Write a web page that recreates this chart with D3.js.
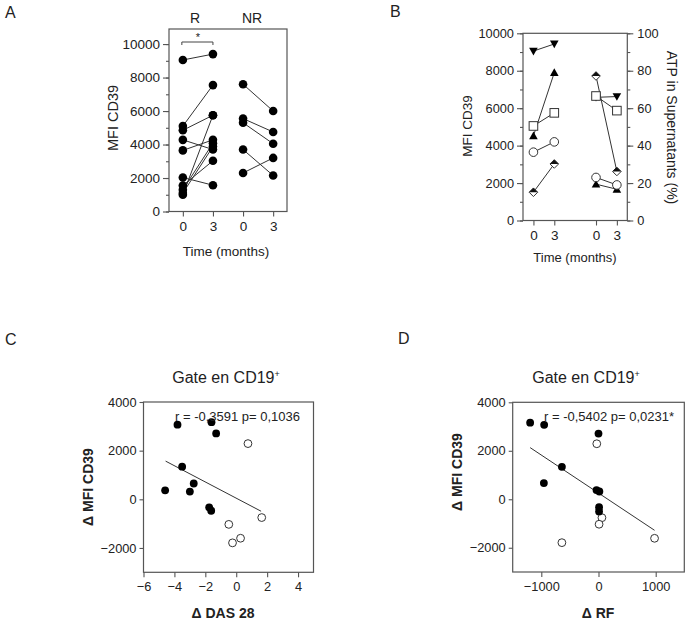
<!DOCTYPE html>
<html>
<head>
<meta charset="utf-8">
<script src="https://cdn.jsdelivr.net/npm/d3@7"></script>
<style>
  body { margin: 0; background: #fff; }
  svg { font-family: "Liberation Sans", Arial, sans-serif; }
  text { fill: #222; }
</style>
</head>
<body>
<script>

// ---- data ----

// panel A: MFI CD39 at 0 and 3 months, responders (R) and non responders (NR)
const aTimes = ['R0', 'R3', 'NR0', 'NR3'];
const aTickLabels = ['0', '3', '0', '3'];
const aYTicks = [0, 2000, 4000, 6000, 8000, 10000];
const rMonth0 = [9050, 5100, 4850, 4280, 3650, 2030, 1550, 1300, 1100, 1000];
const rMonth3 = [9400, 7550, 5750, 3700, 4280, 1570, 3030, 4080, 3880, 5750];
const nrMonth0 = [7600, 5550, 5300, 3700, 2300];
const nrMonth3 = [6000, 4750, 4050, 2150, 3200];

// panel B: MFI CD39 per patient, two groups of five
const bShapes = ['triDown', 'triUp', 'square', 'circle', 'diamond'];
const bLeft0 = [9050, 4520, 5050, 3650, 1510];
const bLeft3 = [9430, 7900, 5750, 4200, 3020];
const bRight0 = [6580, 1940, 6650, 2300, 7720];
const bRight3 = [6620, 1670, 5870, 1900, 2620];
const bYTicks = [0, 2000, 4000, 6000, 8000, 10000];
const bRTicks = [0, 20, 40, 60, 80, 100];

// panel C: delta DAS 28 vs delta MFI CD39
const cFilledX = [-3.8, -1.6, -1.3, -3.5, -4.6, -2.75, -3.0, -1.75, -1.62];
const cFilledY = [3070, 3170, 2710, 1340, 370, 650, 320, -330, -470];
const cOpenX = [0.76, -0.48, -0.24, 0.28, 1.65];
const cOpenY = [2290, -1030, -1790, -1600, -750];
const cFitX = [-4.57, 1.61];
const cFitY = [1570, -490];
const cXTicks = [-6, -4, -2, 0, 2, 4];

// panel D: delta RF vs delta MFI CD39
const dFilledX = [-1195, -950, 0, -640, -955, -35, 15, 10, 10];
const dFilledY = [3160, 3070, 2710, 1340, 670, 380, 320, -330, -500];
const dOpenX = [-30, 60, 10, -640, 980];
const dOpenY = [2290, -760, -1030, -1790, -1610];
const dFitX = [-1195, 980];
const dFitY = [2130, -1280];
const dXTicks = [-1000, 0, 1000];

const cdYTicks = [-2000, 0, 2000, 4000];

// ---- page ----

const svg = d3.select('body').append('svg').attr('width', 688).attr('height', 622);

const ink = '#222';
const frame = '#555';

function box(x0, x1, y0, y1) {
    svg.append('rect').attr('x', x0).attr('y', y1).attr('width', x1 - x0).attr('height', y0 - y1)
        .attr('fill', 'none').attr('stroke', frame).attr('stroke-width', 1.2);
}

function styleAxis(g, size) {
    g.select('.domain').remove();
    g.selectAll('line').attr('stroke', frame).attr('stroke-width', 1.1);
    g.selectAll('text').attr('font-size', size).attr('fill', ink)
        .attr('font-family', '"Liberation Sans", Arial, sans-serif');
}

function label(x, y, txt, size, opts = {}) {
    const t = svg.append('text').attr('x', x).attr('y', y).attr('font-size', size)
        .attr('text-anchor', opts.anchor || 'middle').text(txt);
    if (opts.bold) t.attr('font-weight', 'bold');
    if (opts.rotate) t.attr('transform', `rotate(${opts.rotate},${x},${y})`);
    return t;
}

// panel letters
label(5, 18, 'A', 16, { anchor: 'start' });
label(390, 17, 'B', 16, { anchor: 'start' });
label(5, 345, 'C', 16, { anchor: 'start' });
label(398, 344, 'D', 16, { anchor: 'start' });

// ---- A ----

const ax = d3.scalePoint().domain(aTimes).range([169, 287]).padding(0.46);
const ay = d3.scaleLinear().domain([0, 10900]).range([211.5, 29]);

svg.append('g').attr('transform', 'translate(169,0)')
    .call(d3.axisLeft(ay).tickValues(d3.range(0, 10001, 1000)).tickSize(3).tickFormat(''))
    .call(g => styleAxis(g, 13));
svg.append('g').attr('transform', 'translate(169,0)')
    .call(d3.axisLeft(ay).tickValues(aYTicks).tickSize(6).tickPadding(3).tickFormat(d3.format('d')))
    .call(g => styleAxis(g, 13.5));
svg.append('g').attr('transform', 'translate(0,211.5)')
    .call(d3.axisBottom(ax).tickSize(5).tickPadding(5).tickFormat((d, i) => aTickLabels[i]))
    .call(g => styleAxis(g, 13.5));
box(169, 287, 211.5, 29);

const aPairs = rMonth0.map((v, i) => ({ a: 'R0', b: 'R3', v0: v, v3: rMonth3[i] }))
    .concat(nrMonth0.map((v, i) => ({ a: 'NR0', b: 'NR3', v0: v, v3: nrMonth3[i] })));

svg.append('g').selectAll('line').data(aPairs).enter().append('line')
    .attr('x1', d => ax(d.a)).attr('x2', d => ax(d.b))
    .attr('y1', d => ay(d.v0)).attr('y2', d => ay(d.v3))
    .attr('stroke', '#333').attr('stroke-width', 1);

const aPoints = aPairs.flatMap(d => [{ t: d.a, v: d.v0 }, { t: d.b, v: d.v3 }]);
svg.append('g').selectAll('circle').data(aPoints).enter().append('circle')
    .attr('cx', d => ax(d.t)).attr('cy', d => ay(d.v)).attr('r', 4.3).attr('fill', '#000');

label(195, 23, 'R', 14);
label(252, 23, 'NR', 14);

// significance bracket
const brY = 42;
svg.append('path')
    .attr('d', `M${ax('R0') - 1},${brY + 3}V${brY}H${ax('R3')}V${brY + 3}`)
    .attr('fill', 'none').attr('stroke', '#444').attr('stroke-width', 1);
label((ax('R0') + ax('R3')) / 2, 40.5, '*', 11);

label(226, 256, 'Time (months)', 13.5);
label(118, 118, 'MFI CD39', 14.5, { rotate: -90 });

// ---- B ----

const bx = d3.scaleLinear().domain([-0.5, 4.5]).range([523, 627.3]);
const by = d3.scaleLinear().domain([0, 10000]).range([220.5, 33.3]);
const byR = d3.scaleLinear().domain([0, 100]).range([220.5, 33.3]);

svg.append('g').attr('transform', 'translate(523,0)')
    .call(d3.axisLeft(by).tickValues(d3.range(0, 10001, 1000)).tickSize(3).tickFormat(''))
    .call(g => styleAxis(g, 12.5));
svg.append('g').attr('transform', 'translate(523,0)')
    .call(d3.axisLeft(by).tickValues(bYTicks).tickSize(6).tickPadding(3).tickFormat(d3.format('d')))
    .call(g => styleAxis(g, 12.8));
svg.append('g').attr('transform', 'translate(627.3,0)')
    .call(d3.axisRight(byR).tickValues(d3.range(0, 101, 10)).tickSize(3).tickFormat(''))
    .call(g => styleAxis(g, 12.5));
svg.append('g').attr('transform', 'translate(627.3,0)')
    .call(d3.axisRight(byR).tickValues(bRTicks).tickSize(6).tickPadding(4).tickFormat(d3.format('d')))
    .call(g => styleAxis(g, 12.8));
svg.append('g').attr('transform', 'translate(0,220.5)')
    .call(d3.axisBottom(bx).tickValues([0, 1, 3, 4]).tickSize(5).tickPadding(5)
        .tickFormat(d => (d === 0 || d === 3) ? '0' : '3'))
    .call(g => styleAxis(g, 13.5));
box(523, 627.3, 220.5, 33.3);

const bPairs = [];
bShapes.forEach((s, i) => {
    bPairs.push({ s, x0: 0, x1: 1, v0: bLeft0[i], v1: bLeft3[i] });
    bPairs.push({ s, x0: 3, x1: 4, v0: bRight0[i], v1: bRight3[i] });
});

svg.append('g').selectAll('line').data(bPairs).enter().append('line')
    .attr('x1', d => bx(d.x0)).attr('x2', d => bx(d.x1))
    .attr('y1', d => by(d.v0)).attr('y2', d => by(d.v1))
    .attr('stroke', '#333').attr('stroke-width', 1);

function marker(g, s, x, y) {
    const r = 4.3;
    if (s === 'triDown') {
        g.append('path').attr('d', `M${x - r},${y - r * 0.8}L${x + r},${y - r * 0.8}L${x},${y + r}Z`).attr('fill', '#000');
    } else if (s === 'triUp') {
        g.append('path').attr('d', `M${x - r},${y + r * 0.8}L${x + r},${y + r * 0.8}L${x},${y - r}Z`).attr('fill', '#000');
    } else if (s === 'square') {
        g.append('rect').attr('x', x - r).attr('y', y - r).attr('width', 2 * r).attr('height', 2 * r)
            .attr('fill', '#fff').attr('stroke', '#333').attr('stroke-width', 1);
    } else if (s === 'circle') {
        g.append('circle').attr('cx', x).attr('cy', y).attr('r', r)
            .attr('fill', '#fff').attr('stroke', '#333').attr('stroke-width', 1);
    } else if (s === 'diamond') {
        g.append('path').attr('d', `M${x},${y - r}L${x + r},${y}L${x},${y + r}L${x - r},${y}Z`)
            .attr('fill', '#fff').attr('stroke', '#333').attr('stroke-width', 1);
        g.append('path').attr('d', `M${x},${y - r}L${x + r},${y}L${x - r},${y}Z`).attr('fill', '#111');
    }
}

const bMarks = svg.append('g');
bPairs.forEach(d => {
    marker(bMarks, d.s, bx(d.x0), by(d.v0));
    marker(bMarks, d.s, bx(d.x1), by(d.v1));
});

label(575, 262, 'Time (months)', 13);
label(472, 126, 'MFI CD39', 13.5, { rotate: -90 });
label(667, 127.5, 'ATP in Supernatants (%)', 14, { rotate: 90 });

// ---- C and D scatter panels ----

function scatter(o) {
    const x = d3.scaleLinear().domain(o.xDomain).range([o.x0, o.x1]);
    const y = d3.scaleLinear().domain([-3000, 4000]).range([o.y0, o.y1]);

    svg.append('g').attr('transform', `translate(${o.x0},0)`)
        .call(d3.axisLeft(y).tickValues(cdYTicks).tickSize(4).tickPadding(3).tickFormat(d3.format('d')))
        .call(g => styleAxis(g, 12.8));
    svg.append('g').attr('transform', `translate(0,${o.y0})`)
        .call(d3.axisBottom(x).tickValues(o.xTicks).tickSize(5).tickPadding(5).tickFormat(d3.format('d')))
        .call(g => styleAxis(g, 12.8));
    box(o.x0, o.x1, o.y0, o.y1);

    svg.append('line')
        .attr('x1', x(o.fitX[0])).attr('y1', y(o.fitY[0]))
        .attr('x2', x(o.fitX[1])).attr('y2', y(o.fitY[1]))
        .attr('stroke', '#333').attr('stroke-width', 1);

    svg.append('g').selectAll('circle').data(o.openX).enter().append('circle')
        .attr('cx', d => x(d)).attr('cy', (d, i) => y(o.openY[i])).attr('r', 3.9)
        .attr('fill', '#fff').attr('stroke', '#333').attr('stroke-width', 1);
    svg.append('g').selectAll('circle').data(o.filledX).enter().append('circle')
        .attr('cx', d => x(d)).attr('cy', (d, i) => y(o.filledY[i])).attr('r', 3.9)
        .attr('fill', '#000');

    label(o.annX, 421, o.note, 13, { anchor: 'start' });

    const t = label(o.titleX, 383, 'Gate en CD19', 16);
    t.append('tspan').attr('dy', -6).attr('font-size', 9).text('+');

    label(o.xLabX, 618, o.xLab, 14, { bold: true });
    label(o.yLabX, o.yLabY, 'Δ MFI CD39', 14, { bold: true, rotate: -90 });
}

scatter({
    xDomain: [-6, 5], x0: 143.5, x1: 313.5, y0: 572.3, y1: 402,
    xTicks: cXTicks, filledX: cFilledX, filledY: cFilledY, openX: cOpenX, openY: cOpenY,
    fitX: cFitX, fitY: cFitY, note: 'r = -0,3591 p= 0,1036', annX: 175,
    titleX: 226, xLab: 'Δ DAS 28', xLabX: 223, yLabX: 93, yLabY: 487
});

scatter({
    xDomain: [-1500, 1500], x0: 512.7, x1: 684.3, y0: 572, y1: 402.3,
    xTicks: dXTicks, filledX: dFilledX, filledY: dFilledY, openX: dOpenX, openY: dOpenY,
    fitX: dFitX, fitY: dFitY, note: 'r = -0,5402 p= 0,0231*', annX: 544,
    titleX: 586, xLab: 'Δ RF', xLabX: 598, yLabX: 462, yLabY: 472
});

</script>
</body>
</html>
